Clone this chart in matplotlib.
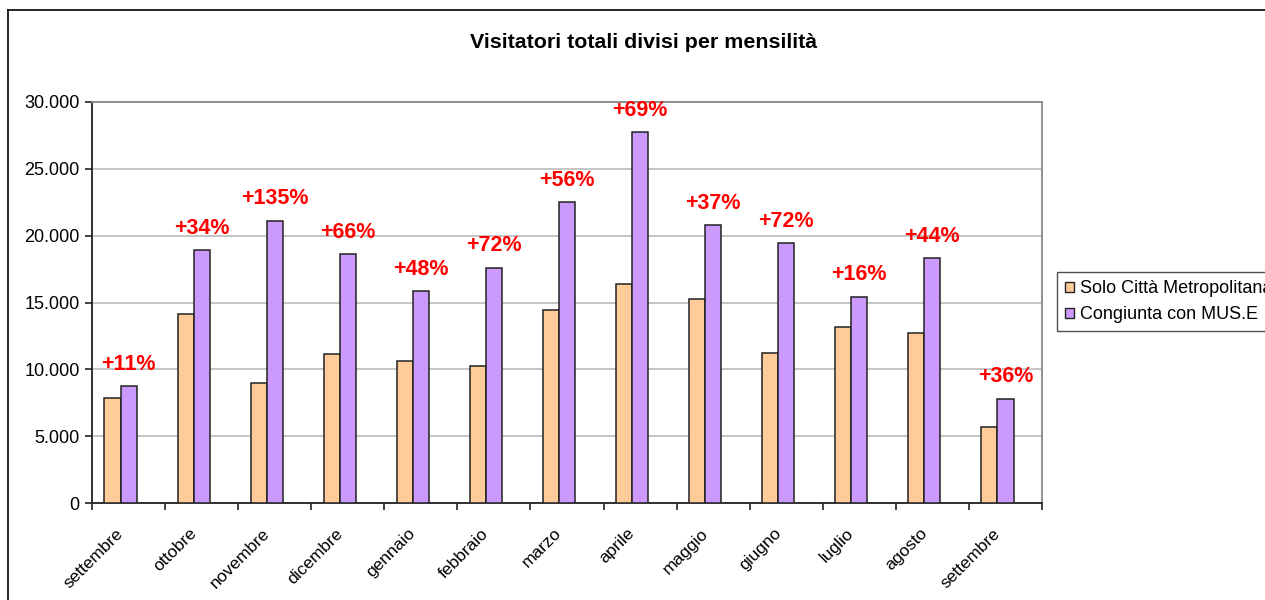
import matplotlib.pyplot as plt
import numpy as np
from matplotlib.ticker import FuncFormatter
from matplotlib.lines import Line2D
from matplotlib.patches import Patch
from matplotlib.transforms import ScaledTranslation

plt.rcParams['font.family'] = ['Liberation Sans', 'DejaVu Sans']

mesi = ['settembre', 'ottobre', 'novembre', 'dicembre', 'gennaio', 'febbraio',
        'marzo', 'aprile', 'maggio', 'giugno', 'luglio', 'agosto', 'settembre']
solo_citta = [7880, 14120, 9000, 11150, 10630, 10225, 14420, 16360, 15240,
              11250, 13200, 12700, 5690]
congiunta = [8730, 18910, 21100, 18610, 15840, 17590, 22500, 27720, 20780,
             19430, 15440, 18310, 7780]
incrementi = ['+11%', '+34%', '+135%', '+66%', '+48%', '+72%', '+56%', '+69%',
              '+37%', '+72%', '+16%', '+44%', '+36%']

W, H = 1265, 600
fig = plt.figure(figsize=(W / 100, H / 100), dpi=100)
ax = fig.add_axes([92 / W, 1 - 503 / H, (1042 - 92) / W, (503 - 102) / H])

x = np.arange(len(mesi))
w = 0.22
ax.bar(x - w, solo_citta, w, color='#FFCC99', edgecolor='#222222', linewidth=1.1,
       label='Solo Città Metropolitana', zorder=3)
ax.bar(x, congiunta, w, color='#CC99FF', edgecolor='#222222', linewidth=1.1,
       label='Congiunta con MUS.E', zorder=3)

for i, t in enumerate(incrementi):
    ax.annotate(t, (x[i], congiunta[i]), xytext=(0, 16), textcoords='offset points',
                ha='center', va='center', color='#FF0000', fontsize=15.5,
                fontweight='bold', zorder=4)

ax.set_xlim(-0.5, len(mesi) - 0.5)
ax.set_ylim(0, 30000)
ax.set_yticks(np.arange(0, 30001, 5000))
ax.yaxis.set_major_formatter(FuncFormatter(lambda v, p: f'{int(v):,}'.replace(',', '.')))
ax.grid(axis='y', color='#C0C0C0', linewidth=1.3, zorder=0)

ax.set_xticks(x)
ax.set_xticklabels(mesi, rotation=45, ha='right', rotation_mode='anchor')
ax.set_xticks(np.arange(-0.5, len(mesi), 1), minor=True)
ax.tick_params(axis='x', which='major', length=0, pad=12, labelsize=12.5)
ax.tick_params(axis='x', which='minor', length=5, width=1.2, color='#222222')
ax.tick_params(axis='y', length=5, width=1.2, color='#222222', labelsize=13, pad=4)
shift = ScaledTranslation(-0.13, -0.06, fig.dpi_scale_trans)
for lab in ax.get_xticklabels():
    lab.set_transform(lab.get_transform() + shift)

for s in ['top', 'right']:
    ax.spines[s].set_color('#888888')
    ax.spines[s].set_linewidth(1.3)
for s in ['left', 'bottom']:
    ax.spines[s].set_color('#222222')
    ax.spines[s].set_linewidth(1.3)

fig.text(644 / W, 1 - 43 / H, 'Visitatori totali divisi per mensilità', ha='center',
         va='center', fontsize=15.4, fontweight='bold')

handles = [Patch(facecolor='#FFCC99', edgecolor='#222222', linewidth=1.0),
           Patch(facecolor='#CC99FF', edgecolor='#222222', linewidth=1.0)]
leg = fig.legend(handles, ['Solo Città Metropolitana', 'Congiunta con MUS.E'],
                 loc='upper left', bbox_to_anchor=(1057 / W, 1 - 272 / H),
                 borderaxespad=0, fontsize=13, frameon=True, fancybox=False,
                 handlelength=0.5, handleheight=0.5, handletextpad=0.3,
                 labelspacing=0.5, borderpad=0.45)
leg.get_frame().set_edgecolor('#222222')
leg.get_frame().set_linewidth(1.0)

# chart border (only left and top visible in the crop)
fig.add_artist(Line2D([8 / W, 8 / W], [0, 1 - 10 / H], transform=fig.transFigure,
                      color='black', linewidth=1.2))
fig.add_artist(Line2D([8 / W, 1], [1 - 10 / H, 1 - 10 / H], transform=fig.transFigure,
                      color='black', linewidth=1.2))

fig.savefig('out.png', dpi=100)
